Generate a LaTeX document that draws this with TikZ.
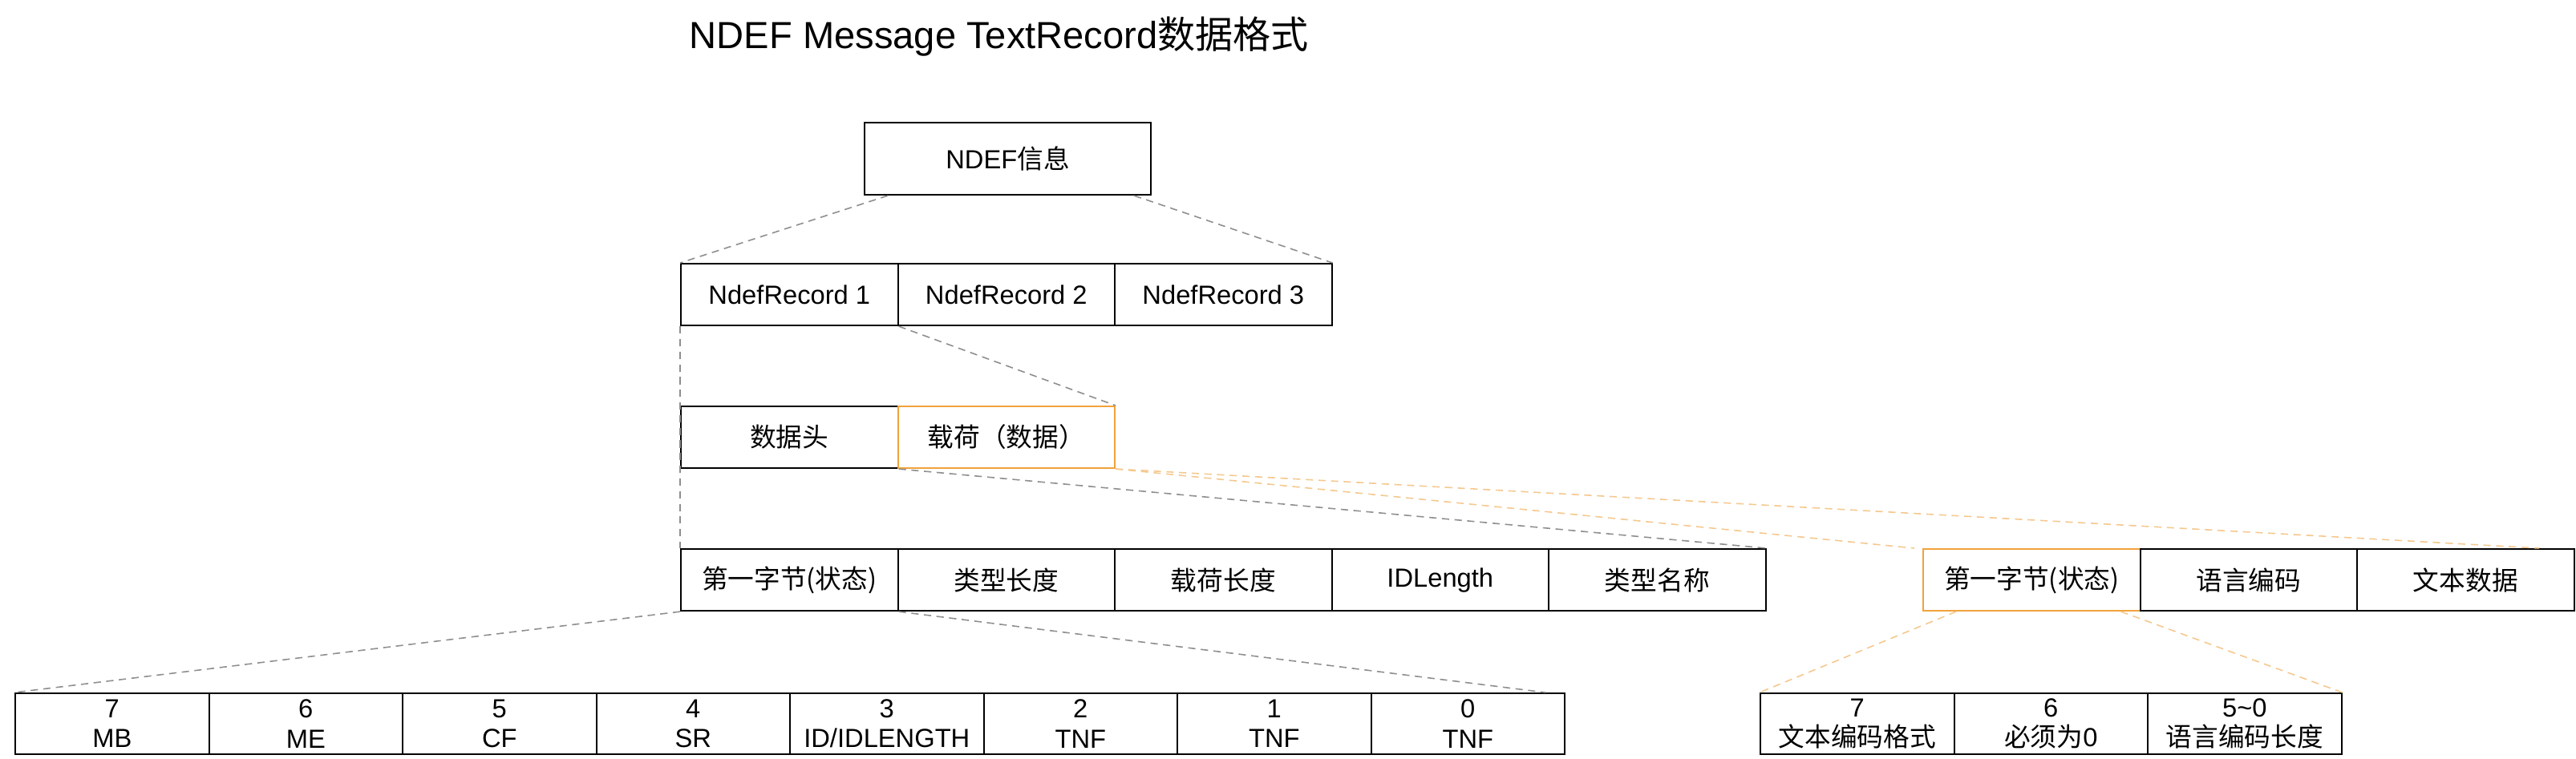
\documentclass[tikz,border=0pt]{standalone}
\usepackage{fontspec}
\setmainfont{Liberation Sans}
\newfontfamily\cjk{Noto Sans CJK SC}
\definecolor{Guide}{HTML}{8E8E8E}
\definecolor{Amber}{HTML}{F0A23C}
\definecolor{SoftAmber}{HTML}{F5C88E}

\begin{document}
\begin{tikzpicture}[every node/.style={font=\fontsize{9.3}{11}\selectfont,text=black},cell/.style={draw=black,line width=0.6pt,anchor=north west,minimum width=2.705cm,minimum height=0.77cm,inner sep=0pt},bitcell/.style={cell,minimum width=2.415cm,minimum height=0.76cm,align=center,font=\fontsize{9.3}{10.6}\selectfont},hot/.style={draw=Amber},guide/.style={draw=Guide,line width=0.45pt,dash pattern=on 2.6pt off 1.9pt},hotguide/.style={guide,draw=SoftAmber}]
\useasboundingbox (0,0) rectangle (32.12,-9.47);
\node[font=\fontsize{13.4}{16}\selectfont] (title) at (12.46,-0.46) {NDEF Message TextRecord{\cjk 数据格式}};
% message and its records
\node[cell,minimum width=3.57cm,minimum height=0.9cm] (msg) at (10.77,-1.52) {NDEF{\cjk 信息}};
\foreach \i in {1,2,3}{\node[cell] (rec\i) at ({8.48+(\i-1)*2.705},-3.28) {NdefRecord \i};}
\node[cell] (head) at (8.48,-5.06) {\cjk 数据头};
\node[cell,hot] (load) at (11.185,-5.06) {\cjk 载荷（数据）};
% header fields
\foreach \n/\txt [count=\i from 0] in {stat/{\cjk 第一字节(状态)},tlen/{\cjk 类型长度},plen/{\cjk 载荷长度},idlen/{IDLength},tname/{\cjk 类型名称}}{\node[cell] (\n) at ({8.48+\i*2.705},-6.84) {\txt};}
% payload fields
\node[cell,hot] (tstat) at (23.97,-6.84) {\cjk 第一字节(状态)};
\node[cell] (lang) at (26.675,-6.84) {\cjk 语言编码};
\node[cell] (text) at (29.38,-6.84) {\cjk 文本数据};
% status byte bits
\foreach \b/\name [count=\i from 0] in {7/MB,6/ME,5/CF,4/SR,3/{ID/IDLENGTH},2/TNF,1/TNF,0/TNF}{\node[bitcell] (bit\b) at ({0.18+\i*2.415},-8.64) {\b\\\name};}
\node[bitcell] (enc) at (21.94,-8.64) {7\\{\cjk 文本编码格式}};
\node[bitcell] (zero) at (24.355,-8.64) {6\\{\cjk 必须为}0};
\node[bitcell] (langlen) at (26.77,-8.64) {5\textasciitilde0\\{\cjk 语言编码长度}};
% guides
\draw[guide] ([xshift=0.3cm]msg.south west) -- (rec1.north west);
\draw[guide] ([xshift=-0.22cm]msg.south east) -- (rec3.north east);
\draw[guide] (rec1.south east) -- (load.north east);
\draw[guide] (rec1.south west) -- (stat.north west);
\draw[guide] (head.south east) -- (tname.north east);
\draw[hotguide] (load.south east) -- ([xshift=-0.1cm]tstat.north west);
\draw[hotguide] (load.south east) -- ([xshift=-0.45cm]text.north east);
\draw[guide] (stat.south west) -- (bit7.north west);
\draw[guide] (stat.south east) -- ([xshift=-0.25cm]bit0.north east);
\draw[hotguide] ([xshift=0.42cm]tstat.south west) -- (enc.north west);
\draw[hotguide] ([xshift=-0.25cm]tstat.south east) -- (langlen.north east);
\end{tikzpicture}
\end{document}
